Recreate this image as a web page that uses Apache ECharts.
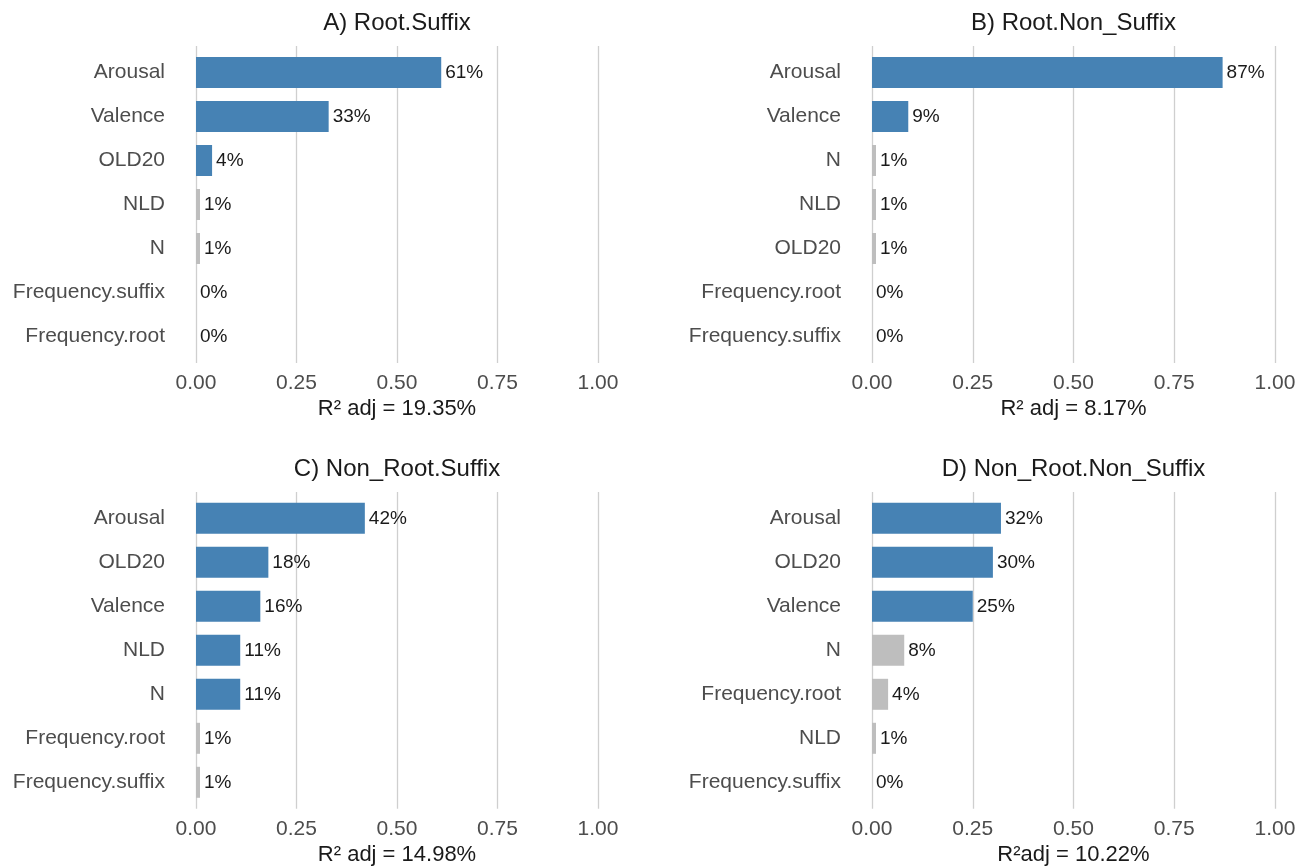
<!DOCTYPE html>
<html>
<head>
<meta charset="utf-8">
<script src="https://cdn.jsdelivr.net/npm/echarts@6/dist/echarts.min.js"></script>
<style>
  html, body { margin: 0; padding: 0; background: #ffffff; }
  #chart { width: 1307px; height: 868px; }
</style>
</head>
<body>
<div id="chart"></div>
<script>
// Relative importance (share of explained variance) per predictor, four word types.
const titleA = 'A) Root.Suffix';
const catsA = ['Arousal', 'Valence', 'OLD20', 'NLD', 'N', 'Frequency.suffix', 'Frequency.root'];
const valsA = [61, 33, 4, 1, 1, 0, 0];
const sigA = [true, true, true, false, false, false, false];
const r2A = 'R² adj = 19.35%';

const titleB = 'B) Root.Non_Suffix';
const catsB = ['Arousal', 'Valence', 'N', 'NLD', 'OLD20', 'Frequency.root', 'Frequency.suffix'];
const valsB = [87, 9, 1, 1, 1, 0, 0];
const sigB = [true, true, false, false, false, false, false];
const r2B = 'R² adj = 8.17%';

const titleC = 'C) Non_Root.Suffix';
const catsC = ['Arousal', 'OLD20', 'Valence', 'NLD', 'N', 'Frequency.root', 'Frequency.suffix'];
const valsC = [42, 18, 16, 11, 11, 1, 1];
const sigC = [true, true, true, true, true, false, false];
const r2C = 'R² adj = 14.98%';

const titleD = 'D) Non_Root.Non_Suffix';
const catsD = ['Arousal', 'OLD20', 'Valence', 'N', 'Frequency.root', 'NLD', 'Frequency.suffix'];
const valsD = [32, 30, 25, 8, 4, 1, 0];
const sigD = [true, true, true, false, false, false, false];
const r2D = 'R²adj = 10.22%';

const xTicks = [0, 0.25, 0.5, 0.75, 1];

const FONT = 'Liberation Sans, Arial, Helvetica, sans-serif';
const BLUE = '#4682B4';
const GREY = '#BEBEBE';
const GRIDLINE = '#CFCFCF';

const panels = [
  { title: titleA, cats: catsA, vals: valsA, sig: sigA, r2: r2A, left: 196, width: 402, row0: 72.5 },
  { title: titleB, cats: catsB, vals: valsB, sig: sigB, r2: r2B, left: 872, width: 403, row0: 72.5 },
  { title: titleC, cats: catsC, vals: valsC, sig: sigC, r2: r2C, left: 196, width: 402, row0: 518.3 },
  { title: titleD, cats: catsD, vals: valsD, sig: sigD, r2: r2D, left: 872, width: 403, row0: 518.3 }
];

const BAND = 44;       // px per category row
const EXPAND = 0.6;    // extra space above/below the rows, in rows

const option = {
  backgroundColor: '#ffffff',
  animation: false,
  title: [],
  grid: [],
  xAxis: [],
  yAxis: [],
  series: []
};

panels.forEach((p, i) => {
  const n = p.cats.length;
  const barsTop = p.row0 - BAND / 2;
  const barsH = n * BAND;
  const linesTop = p.row0 - EXPAND * BAND;
  const linesH = (n - 1) * BAND + 2 * EXPAND * BAND;

  option.title.push({
    text: p.title,
    left: p.left + p.width / 2,
    top: linesTop - 35,
    textAlign: 'center',
    padding: 0,
    textStyle: { fontFamily: FONT, fontSize: 24, fontWeight: 'normal', color: '#1a1a1a' }
  });

  // grid holding the value axis, vertical guide lines and the R² caption
  const gLines = option.grid.length;
  option.grid.push({ left: p.left, top: linesTop, width: p.width, height: linesH, containLabel: false });
  option.xAxis.push({
    gridIndex: gLines, type: 'value', min: 0, max: 1, interval: 0.25,
    axisLine: { show: false }, axisTick: { show: false },
    splitLine: { show: true, lineStyle: { color: GRIDLINE, width: 1.3 } },
    axisLabel: {
      margin: 10, fontFamily: FONT, fontSize: 21, color: '#4D4D4D',
      formatter: v => (xTicks.indexOf(v) >= 0 ? v.toFixed(2) : '')
    },
    name: p.r2, nameLocation: 'middle', nameGap: 35,
    nameTextStyle: { fontFamily: FONT, fontSize: 22, color: '#1a1a1a' }
  });
  option.yAxis.push({ gridIndex: gLines, type: 'value', show: false, min: 0, max: 1 });

  // grid holding the bars and category labels
  const gBars = option.grid.length;
  option.grid.push({ left: p.left, top: barsTop, width: p.width, height: barsH, containLabel: false });
  option.xAxis.push({ gridIndex: gBars, type: 'value', min: 0, max: 1, show: false });
  option.yAxis.push({
    gridIndex: gBars, type: 'category', data: p.cats, inverse: true,
    axisLine: { show: false }, axisTick: { show: false }, splitLine: { show: false },
    axisLabel: { margin: 31, padding: [3, 0, 0, 0], fontFamily: FONT, fontSize: 21, color: '#4D4D4D' }
  });
  option.series.push({
    type: 'bar',
    xAxisIndex: gBars, yAxisIndex: gBars,
    barWidth: 31,
    data: p.vals.map((v, k) => ({ value: v / 100, itemStyle: { color: p.sig[k] ? BLUE : GREY } })),
    label: {
      show: true, position: 'right', distance: 4,
      fontFamily: FONT, fontSize: 19, color: '#1a1a1a',
      formatter: d => Math.round(d.value * 100) + '%'
    }
  });
});

const chart = echarts.init(document.getElementById('chart'), null, { renderer: 'canvas' });
chart.setOption(option);
</script>
</body>
</html>
